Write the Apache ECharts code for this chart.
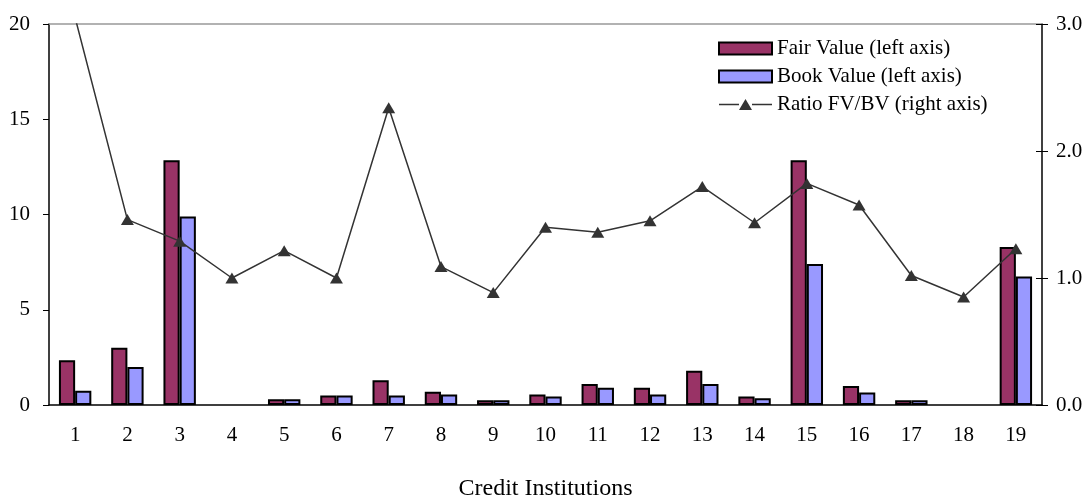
<!DOCTYPE html>
<html>
<head>
<meta charset="utf-8">
<script src="https://cdn.jsdelivr.net/npm/echarts@6/dist/echarts.min.js"></script>
<style>html,body{margin:0;padding:0;background:#fff;}#c{width:1084px;height:500px;}</style>
</head>
<body>
<div id="c"></div>
<script>
const categories = ['1','2','3','4','5','6','7','8','9','10','11','12','13','14','15','16','17','18','19'];
const fairValue = [2.35, 3.0, 12.85, 0, 0.3, 0.5, 1.3, 0.7, 0.25, 0.55, 1.1, 0.9, 1.8, 0.45, 12.85, 1.0, 0.25, 0, 8.3];
const bookValue = [0.75, 2.0, 9.9, 0, 0.3, 0.5, 0.5, 0.55, 0.25, 0.45, 0.9, 0.55, 1.1, 0.35, 7.4, 0.65, 0.25, 0, 6.75];
const ratio = [3.05, 1.46, 1.29, 1.0, 1.215, 1.0, 2.34, 1.09, 0.885, 1.40, 1.36, 1.45, 1.72, 1.435, 1.745, 1.575, 1.02, 0.85, 1.23];
const leftTicks = [0, 5, 10, 15, 20];
const rightTicks = [0, 1, 2, 3];

// zero-height bars are not drawn in the reference
const hideZero = arr => arr.map(v => (v === 0 ? '-' : v));

const FONT = 'Liberation Serif';
const lineIcon = 'path://M0,5.25L20,5.25L20,6.75L0,6.75Z M20,11.5L26.5,0.5L33,11.5Z M33,5.25L53,5.25L53,6.75L33,6.75Z';

const chart = echarts.init(document.getElementById('c'));
chart.setOption({
  animation: false,
  backgroundColor: '#fff',
  textStyle: { fontFamily: FONT, color: '#000' },
  grid: { left: 49, right: 42, top: 24, bottom: 95, outerBoundsMode: 'none', containLabel: false },
  legend: {
    orient: 'vertical',
    left: 718,
    top: 38,
    padding: 0,
    itemWidth: 53,
    itemHeight: 12,
    itemGap: 7,
    textStyle: { fontFamily: FONT, fontSize: 21, color: '#000' },
    data: [
      { name: 'Fair Value (left axis)', icon: 'rect' },
      { name: 'Book Value (left axis)', icon: 'rect' },
      { name: 'Ratio FV/BV (right axis)', icon: lineIcon, itemStyle: { color: '#333', borderWidth: 0 } }
    ]
  },
  xAxis: [
    {
      type: 'category',
      data: categories,
      name: 'Credit Institutions',
      nameLocation: 'middle',
      nameGap: 72,
      nameTextStyle: { fontFamily: FONT, fontSize: 24, color: '#000' },
      axisLine: { lineStyle: { color: '#000', width: 1.5 } },
      axisTick: { length: 6, lineStyle: { color: '#000' } },
      axisLabel: { fontFamily: FONT, fontSize: 21, color: '#000', margin: 20 }
    },
    {
      type: 'category',
      data: categories,
      position: 'top',
      axisLine: { onZero: false, lineStyle: { color: '#999', width: 1.5 } },
      axisTick: { show: false },
      axisLabel: { show: false }
    }
  ],
  yAxis: [
    {
      type: 'value',
      min: leftTicks[0],
      max: leftTicks[leftTicks.length - 1],
      interval: 5,
      axisLine: { show: true, lineStyle: { color: '#000', width: 1.5 } },
      axisTick: { show: true, length: 6, lineStyle: { color: '#000' } },
      splitLine: { show: false },
      axisLabel: { fontFamily: FONT, fontSize: 21, color: '#000', margin: 19 }
    },
    {
      type: 'value',
      position: 'right',
      min: rightTicks[0],
      max: rightTicks[rightTicks.length - 1],
      interval: 1,
      axisLine: { show: true, lineStyle: { color: '#000', width: 1.5 } },
      axisTick: { show: true, length: 6, lineStyle: { color: '#000' } },
      splitLine: { show: false },
      axisLabel: { fontFamily: FONT, fontSize: 21, color: '#000', margin: 14, formatter: v => v.toFixed(1) }
    },
    {
      type: 'value',
      position: 'right',
      min: rightTicks[0],
      max: rightTicks[rightTicks.length - 1],
      interval: 1,
      axisLine: { show: false },
      axisTick: { show: true, inside: true, length: 6, lineStyle: { color: '#000' } },
      splitLine: { show: false },
      axisLabel: { show: false }
    }
  ],
  series: [
    {
      name: 'Fair Value (left axis)',
      type: 'bar',
      data: hideZero(fairValue),
      barGap: '0%',
      barCategoryGap: '38%',
      itemStyle: { color: '#993366', borderColor: '#000', borderWidth: 2 }
    },
    {
      name: 'Book Value (left axis)',
      type: 'bar',
      data: hideZero(bookValue),
      itemStyle: { color: '#9999FF', borderColor: '#000', borderWidth: 2 }
    },
    {
      name: 'Ratio FV/BV (right axis)',
      type: 'line',
      yAxisIndex: 1,
      data: ratio,
      clip: true,
      symbol: 'triangle',
      symbolSize: [13, 11],
      showAllSymbol: true,
      lineStyle: { color: '#333', width: 1.5 },
      itemStyle: { color: '#333' }
    }
  ]
});
</script>
</body>
</html>
